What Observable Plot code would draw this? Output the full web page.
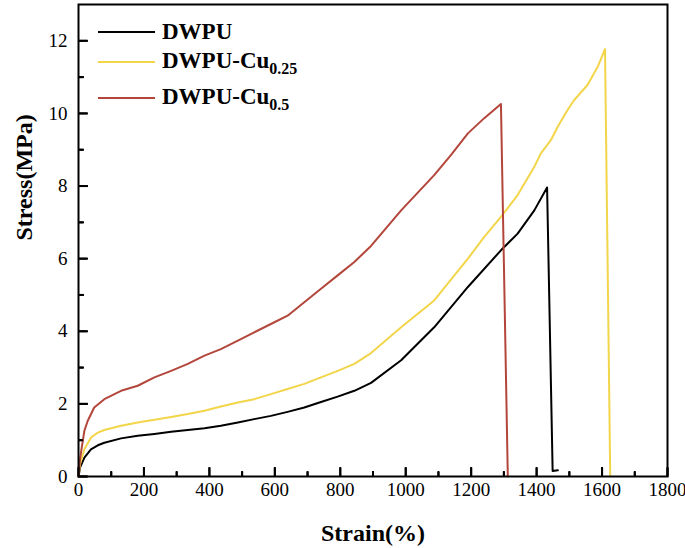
<!DOCTYPE html>
<html><head><meta charset="utf-8">
<script src="https://cdn.jsdelivr.net/npm/d3@7"></script>
<script src="https://cdn.jsdelivr.net/npm/@observablehq/plot@0.6"></script>
<style>
body{margin:0;background:#fff}
#wrap{position:relative;width:685px;height:548px}
.item{position:absolute;left:98px;height:26px;line-height:26px;display:flex;align-items:center;white-space:nowrap;font-family:'Liberation Serif',serif;font-weight:bold;font-size:23px;color:#000}
.sw{width:57px;height:0;border-top:2px solid;margin-right:7px}
.item sub{font-size:16px;vertical-align:baseline;position:relative;top:6px}
</style>
</head><body>
<div id="wrap"></div>
<script>
// DWPU
const dwpuStrain = [0, 5, 18, 38, 59, 79, 130, 181, 232, 283, 334, 385, 435, 487, 537, 588, 639, 690, 741, 792, 843, 894, 986, 1087, 1190, 1291, 1342, 1393, 1432, 1449, 1465];
const dwpuStress = [0, 0.25, 0.52, 0.75, 0.86, 0.93, 1.05, 1.12, 1.17, 1.23, 1.28, 1.33, 1.40, 1.49, 1.58, 1.67, 1.78, 1.90, 2.05, 2.20, 2.36, 2.58, 3.20, 4.11, 5.22, 6.23, 6.69, 7.33, 7.96, 0.15, 0.17];
// DWPU-Cu0.25
const cu025Strain = [0, 5, 18, 38, 59, 79, 130, 181, 232, 283, 334, 385, 435, 487, 537, 588, 639, 690, 741, 792, 843, 894, 986, 1087, 1190, 1240, 1291, 1342, 1393, 1413, 1444, 1465, 1495, 1515, 1556, 1587, 1609, 1625];
const cu025Stress = [0, 0.35, 0.75, 1.07, 1.21, 1.28, 1.40, 1.49, 1.56, 1.64, 1.72, 1.81, 1.93, 2.04, 2.13, 2.27, 2.41, 2.55, 2.73, 2.91, 3.10, 3.40, 4.11, 4.85, 6.00, 6.60, 7.15, 7.75, 8.53, 8.90, 9.27, 9.64, 10.10, 10.37, 10.79, 11.29, 11.77, 0];
// DWPU-Cu0.5
const cu05Strain = [0, 5, 10, 18, 28, 48, 79, 130, 181, 232, 283, 334, 385, 435, 487, 537, 588, 639, 690, 741, 792, 843, 894, 986, 1087, 1138, 1190, 1240, 1291, 1312];
const cu05Stress = [0, 0.5, 0.8, 1.26, 1.53, 1.90, 2.13, 2.36, 2.50, 2.73, 2.91, 3.10, 3.33, 3.51, 3.74, 3.97, 4.20, 4.43, 4.80, 5.17, 5.54, 5.91, 6.35, 7.33, 8.30, 8.85, 9.45, 9.87, 10.26, 0];

const seriesColors = ["#000000", "#f3d54a", "#b3463b"];
const xMajor = [0, 200, 400, 600, 800, 1000, 1200, 1400, 1600, 1800];
const xMinor = [100, 300, 500, 700, 900, 1100, 1300, 1500, 1700];
const yMajor = [0, 2, 4, 6, 8, 10, 12];
const yMinor = [1, 3, 5, 7, 9, 11];

const idx = (a) => a.map((_, i) => i);

const W = 685, H = 548, mL = 78, mR = 18, mT = 4, mB = 72;
const innerW = W - mL - mR, innerH = H - mT - mB;
const font = "'Liberation Serif', 'Times New Roman', serif";
const blank = () => "";
const chart = Plot.plot({
  width: W, height: H,
  marginLeft: mL, marginRight: mR, marginTop: mT, marginBottom: mB,
  x: {domain: [0, 1800]},
  y: {domain: [0, 13]},
  style: {fontFamily: font, fontSize: "19px", color: "#000", background: "#fff"},
  marks: [
    Plot.axisX(xMajor, {tickSize: 0, tickPadding: 6, tickFormat: d => String(d), label: null}),
    Plot.axisY(yMajor, {tickSize: 0, tickPadding: 11, tickFormat: d => String(d), label: null}),
    // inward ticks: opposite-side axes shifted onto the bottom/left frame edges
    Plot.axisX(xMajor, {anchor: "top", tickSize: 9, strokeWidth: 2, tickFormat: blank, label: null, dy: innerH}),
    Plot.axisX(xMinor, {anchor: "top", tickSize: 5, strokeWidth: 2, tickFormat: blank, label: null, dy: innerH}),
    Plot.axisY(yMajor, {anchor: "right", tickSize: 9, strokeWidth: 2, tickFormat: blank, label: null, dx: -innerW}),
    Plot.axisY(yMinor, {anchor: "right", tickSize: 5, strokeWidth: 2, tickFormat: blank, label: null, dx: -innerW}),
    Plot.line(idx(dwpuStrain), {x: i => dwpuStrain[i], y: i => dwpuStress[i], stroke: seriesColors[0], strokeWidth: 2}),
    Plot.line(idx(cu025Strain), {x: i => cu025Strain[i], y: i => cu025Stress[i], stroke: seriesColors[1], strokeWidth: 2}),
    Plot.line(idx(cu05Strain), {x: i => cu05Strain[i], y: i => cu05Stress[i], stroke: seriesColors[2], strokeWidth: 2}),
    Plot.frame({stroke: "#000", strokeWidth: 2}),
    Plot.ruleX(xMajor, {insetTop: innerH - 9, stroke: "black", strokeWidth: 2}),
    Plot.ruleX(xMinor, {insetTop: innerH - 5, stroke: "black", strokeWidth: 2}),
    Plot.ruleY(yMajor, {insetRight: innerW - 9, stroke: "black", strokeWidth: 2}),
    Plot.ruleY(yMinor, {insetRight: innerW - 5, stroke: "black", strokeWidth: 2}),
    Plot.text(["Strain(%)"], {frameAnchor: "bottom", dy: 57, fontWeight: "bold", fontSize: 24, lineAnchor: "middle"}),
    Plot.text(["Stress(MPa)"], {frameAnchor: "left", dx: -54, rotate: -90, fontWeight: "bold", fontSize: 24, lineAnchor: "middle"})
  ]
});
const wrap = document.getElementById("wrap");
wrap.appendChild(chart);

const legendLabels = ["DWPU", "DWPU-Cu<sub>0.25</sub>", "DWPU-Cu<sub>0.5</sub>"];
const legendTops = [19, 49, 85];
legendLabels.forEach((lab, i) => {
  const d = document.createElement("div");
  d.className = "item";
  d.style.top = legendTops[i] + "px";
  d.innerHTML = `<span class="sw" style="border-color:${seriesColors[i]}"></span><span>${lab}</span>`;
  wrap.appendChild(d);
});
</script>
</body></html>
